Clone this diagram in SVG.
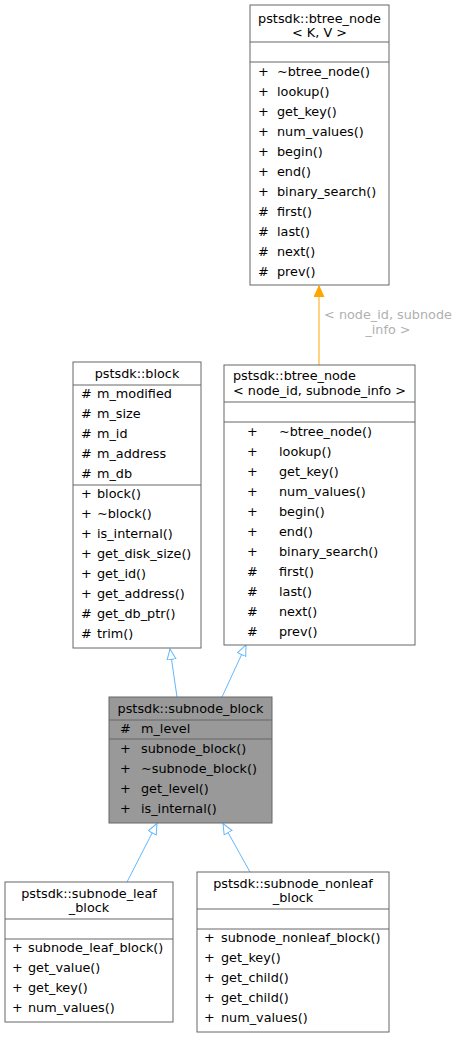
<svg xmlns="http://www.w3.org/2000/svg" width="459" height="1037" viewBox="0 0 459 1037">
<style>
text{font-family:"DejaVu Sans","Liberation Sans",sans-serif;font-size:12.8px;fill:#000}
.c{text-anchor:middle}
.box{fill:#fff;stroke:#666;stroke-width:1}
.sel{fill:#999;stroke:#666;stroke-width:1}
.sep{stroke:#666;stroke-width:1}
.inh{stroke:#63b8ff;stroke-width:1;fill:none;marker-end:url(#hollow)}
.tpl{stroke:#ffa500;stroke-width:1;fill:none;marker-end:url(#filled)}
.lbl{fill:#b0b0b0;text-anchor:middle}
</style>
<defs>
<marker id="hollow" markerUnits="userSpaceOnUse" markerWidth="14" markerHeight="12" refX="11" refY="5" orient="auto"><path d="M0.5,0.5 L11,5 L0.5,9.5 Z" fill="#fff" stroke="#63b8ff" stroke-width="1"/></marker>
<marker id="filled" markerUnits="userSpaceOnUse" markerWidth="14" markerHeight="12" refX="11" refY="5" orient="auto"><path d="M0,0 L11,5 L0,10 Z" fill="#ffa500" stroke="#ffa500" stroke-width="1"/></marker>
</defs>
<g id="connectors">
<line class="tpl" x1="319" y1="365" x2="319" y2="286"/>
<text class="lbl" x="388" y="319">&lt; node_id, subnode</text>
<text class="lbl" x="388" y="334">_info &gt;</text>
<line class="inh" x1="177" y1="697" x2="170" y2="649"/>
<line class="inh" x1="222" y1="697" x2="246" y2="645"/>
<line class="inh" x1="127" y1="882" x2="157" y2="823.5"/>
<line class="inh" x1="250" y1="872" x2="223" y2="823.5"/>
</g>
<g id="btree_node_KV">
<rect class="box" x="250" y="5" width="139" height="280"/>
<line class="sep" x1="250" y1="42" x2="389" y2="42"/>
<line class="sep" x1="250" y1="62" x2="389" y2="62"/>
<text class="c" x="319.5" y="23">pstsdk::btree_node</text>
<text class="c" x="319.5" y="37">&lt; K, V &gt;</text>
<text x="258" y="76">+</text><text x="277" y="76">~btree_node()</text>
<text x="258" y="96">+</text><text x="277" y="96">lookup()</text>
<text x="258" y="116">+</text><text x="277" y="116">get_key()</text>
<text x="258" y="136">+</text><text x="277" y="136">num_values()</text>
<text x="258" y="156">+</text><text x="277" y="156">begin()</text>
<text x="258" y="176">+</text><text x="277" y="176">end()</text>
<text x="258" y="196">+</text><text x="277" y="196">binary_search()</text>
<text x="258" y="216">#</text><text x="277" y="216">first()</text>
<text x="258" y="236">#</text><text x="277" y="236">last()</text>
<text x="258" y="256">#</text><text x="277" y="256">next()</text>
<text x="258" y="276">#</text><text x="277" y="276">prev()</text>
</g>
<g id="btree_node_subnode">
<rect class="box" x="224" y="365" width="191" height="280"/>
<line class="sep" x1="224" y1="402" x2="415" y2="402"/>
<line class="sep" x1="224" y1="422" x2="415" y2="422"/>
<text x="233" y="380">pstsdk::btree_node</text>
<text x="233" y="395">&lt; node_id, subnode_info &gt;</text>
<text x="247" y="436">+</text><text x="279" y="436">~btree_node()</text>
<text x="247" y="456">+</text><text x="279" y="456">lookup()</text>
<text x="247" y="476">+</text><text x="279" y="476">get_key()</text>
<text x="247" y="496">+</text><text x="279" y="496">num_values()</text>
<text x="247" y="516">+</text><text x="279" y="516">begin()</text>
<text x="247" y="536">+</text><text x="279" y="536">end()</text>
<text x="247" y="556">+</text><text x="279" y="556">binary_search()</text>
<text x="247" y="576">#</text><text x="279" y="576">first()</text>
<text x="247" y="596">#</text><text x="279" y="596">last()</text>
<text x="247" y="616">#</text><text x="279" y="616">next()</text>
<text x="247" y="636">#</text><text x="279" y="636">prev()</text>
</g>
<g id="block">
<rect class="box" x="73" y="362" width="128" height="286"/>
<line class="sep" x1="73" y1="385" x2="201" y2="385"/>
<line class="sep" x1="73" y1="485" x2="201" y2="485"/>
<text class="c" x="137" y="378">pstsdk::block</text>
<text x="81" y="398">#</text><text x="97" y="398">m_modified</text>
<text x="81" y="418">#</text><text x="97" y="418">m_size</text>
<text x="81" y="438">#</text><text x="97" y="438">m_id</text>
<text x="81" y="458">#</text><text x="97" y="458">m_address</text>
<text x="81" y="478">#</text><text x="97" y="478">m_db</text>
<text x="81" y="498">+</text><text x="97" y="498">block()</text>
<text x="81" y="518">+</text><text x="97" y="518">~block()</text>
<text x="81" y="538">+</text><text x="97" y="538">is_internal()</text>
<text x="81" y="558">+</text><text x="97" y="558">get_disk_size()</text>
<text x="81" y="578">+</text><text x="97" y="578">get_id()</text>
<text x="81" y="598">+</text><text x="97" y="598">get_address()</text>
<text x="81" y="618">#</text><text x="97" y="618">get_db_ptr()</text>
<text x="81" y="638">#</text><text x="97" y="638">trim()</text>
</g>
<g id="subnode_block">
<rect class="sel" x="109" y="697" width="163" height="126"/>
<line class="sep" x1="109" y1="720" x2="272" y2="720"/>
<line class="sep" x1="109" y1="739" x2="272" y2="739"/>
<text class="c" x="190.5" y="713">pstsdk::subnode_block</text>
<text x="120" y="733">#</text><text x="141" y="733">m_level</text>
<text x="120" y="753">+</text><text x="141" y="753">subnode_block()</text>
<text x="120" y="773">+</text><text x="141" y="773">~subnode_block()</text>
<text x="120" y="793">+</text><text x="141" y="793">get_level()</text>
<text x="120" y="813">+</text><text x="141" y="813">is_internal()</text>
</g>
<g id="subnode_leaf_block">
<rect class="box" x="5" y="882" width="168" height="140"/>
<line class="sep" x1="5" y1="919" x2="173" y2="919"/>
<line class="sep" x1="5" y1="939" x2="173" y2="939"/>
<text class="c" x="89" y="898">pstsdk::subnode_leaf</text>
<text class="c" x="89" y="912">_block</text>
<text x="12" y="952">+</text><text x="28" y="952">subnode_leaf_block()</text>
<text x="12" y="972">+</text><text x="28" y="972">get_value()</text>
<text x="12" y="992">+</text><text x="28" y="992">get_key()</text>
<text x="12" y="1012">+</text><text x="28" y="1012">num_values()</text>
</g>
<g id="subnode_nonleaf_block">
<rect class="box" x="197" y="872" width="192" height="160"/>
<line class="sep" x1="197" y1="909" x2="389" y2="909"/>
<line class="sep" x1="197" y1="929" x2="389" y2="929"/>
<text class="c" x="293" y="888">pstsdk::subnode_nonleaf</text>
<text class="c" x="293" y="902">_block</text>
<text x="204" y="942">+</text><text x="221" y="942">subnode_nonleaf_block()</text>
<text x="204" y="962">+</text><text x="221" y="962">get_key()</text>
<text x="204" y="982">+</text><text x="221" y="982">get_child()</text>
<text x="204" y="1002">+</text><text x="221" y="1002">get_child()</text>
<text x="204" y="1022">+</text><text x="221" y="1022">num_values()</text>
</g>
</svg>
